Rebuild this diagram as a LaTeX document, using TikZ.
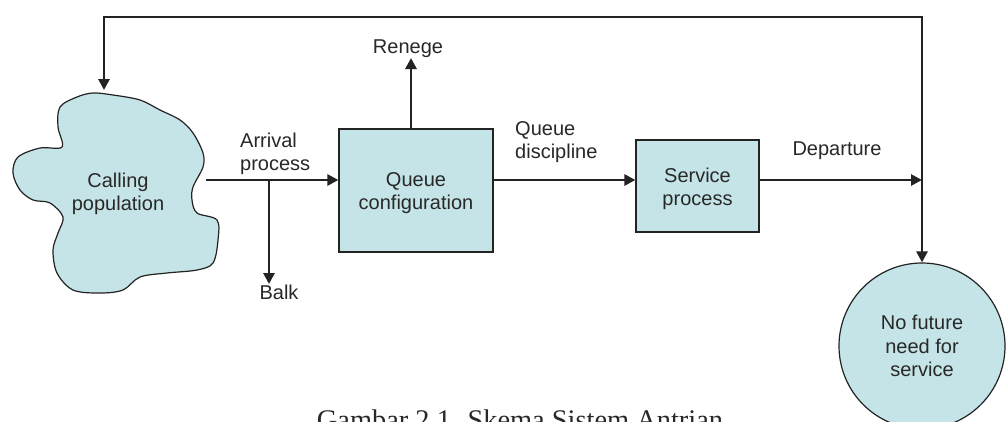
\documentclass[tikz,border=0pt]{standalone}
\usepackage{fontspec}
\setmainfont{Liberation Sans}
\newfontfamily\capfont{Liberation Serif}
\usetikzlibrary{arrows.meta}
\definecolor{fillc}{RGB}{197,228,231}
\definecolor{linec}{RGB}{35,35,35}
\definecolor{txtc}{RGB}{40,40,40}
\tikzset{
  conn/.style={line width=2.8pt, draw=linec, -{Triangle[length=11pt,width=11pt]}},
  conn2/.style={line width=2.8pt, draw=linec, {Triangle[length=11pt,width=11pt]}-{Triangle[length=11pt,width=11pt]}},
  boxn/.style={draw=linec, line width=1.2pt, fill=fillc, rectangle, inner sep=0pt},
  lbl/.style={font=\fontsize{20}{23.5}\selectfont, text=txtc, inner sep=0pt},
}
\begin{document}
\begin{tikzpicture}[x=1pt,y=-1pt]
\useasboundingbox (0,0) rectangle (1006,421);
\clip (0,0) rectangle (1006,421);
\fill[white] (0,0) rectangle (1006,421);
% calling population blob
\draw[linec, line width=1.2pt, fill=fillc] plot[smooth cycle, tension=0.55] coordinates {
 (60,107) (77,97) (93,93) (113,95) (140,100) (160,110) (180,120) (193,133)
 (203,153) (203,167) (193,187) (192,200) (197,213) (217,220) (218,240)
 (213,263) (197,270) (167,273) (140,277) (123,290) (100,293) (73,290)
 (57,273) (53,250) (58,233) (63,217) (50,203) (33,200) (20,190) (13,173)
 (18,157) (40,148) (62,147) (58,127)};
\node[lbl, align=center] (cp) at (118,194) {Calling\\population};
\coordinate (cpR) at (206,180);
\coordinate (cpT) at (104,90);
% boxes
\node[boxn, minimum width=154pt, minimum height=123pt] (qc) at (416,190.5) {};
\node[lbl, align=center] (qct) at (416,193) {Queue\\configuration};
\node[boxn, minimum width=123pt, minimum height=92pt] (sp) at (697.5,186) {};
\node[lbl, align=center] (spt) at (697.5,189) {Service\\process};
\node[boxn, circle, minimum size=166pt] (nf) at (922,346) {};
\node[lbl, align=center] (nft) at (922,346) {No future\\need for\\service};
% labels
\node[lbl, align=left, anchor=west] (arr) at (240,154) {Arrival\\process};
\node[lbl, align=left, anchor=west] (qd) at (515,142) {Queue\\discipline};
\node[lbl] (dep) at (837,151) {Departure};
\node[lbl] (ren) at (408,49) {Renege};
\node[lbl] (balk) at (279,292) {Balk};
% junction coordinates
\coordinate (bj) at (269,180);
\coordinate (bT) at (269,284);
\coordinate (rT) at (411,58);
\coordinate (rB) at (411,129);
\coordinate (j) at (922,180);
\coordinate (topR) at (922,17);
\coordinate (topL) at (104,17);
% connectors
\draw[conn] (cpR) -- (qc.west |- cpR);
\draw[conn] (bj) -- (bT);
\draw[conn] (rB) -- (rT);
\draw[conn] (qc.east |- j) -- (sp.west |- j);
\draw[conn] (sp.east |- j) -- (j);
\draw[conn2, line join=miter] (cpT) -- (topL) -- (topR) -- (nf.north);
% caption (cut off at the bottom edge, as in the source)
\node[font=\capfont\fontsize{28.4}{30}\selectfont, text=txtc, anchor=base] (cap) at (520,429) {Gambar 2.1. Skema Sistem Antrian};
\end{tikzpicture}
\end{document}
